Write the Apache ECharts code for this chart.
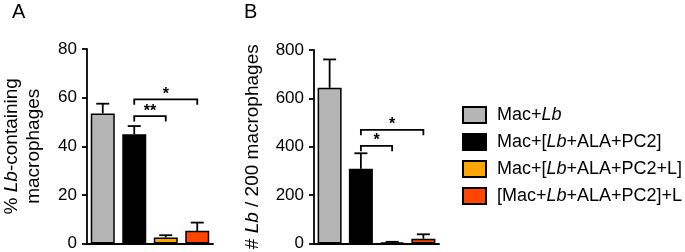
<!DOCTYPE html>
<html>
<head>
<meta charset="utf-8">
<script src="https://cdn.jsdelivr.net/npm/echarts@6/dist/echarts.min.js"></script>
<style>
html,body{margin:0;padding:0;background:#fff;}
#c{width:685px;height:252px;}
</style>
</head>
<body>
<div id="c"></div>
<script>
// ---- data ----
var groups = ['Mac+Lb', 'Mac+[Lb+ALA+PC2]', 'Mac+[Lb+ALA+PC2+L]', '[Mac+Lb+ALA+PC2]+L'];
var groupLabels = ['Mac+{i|Lb}', 'Mac+[{i|Lb}+ALA+PC2]', 'Mac+[{i|Lb}+ALA+PC2+L]', '[Mac+{i|Lb}+ALA+PC2]+L'];
var groupColors = ['#b5b5b5', '#000000', '#ffa500', '#ff4500'];

var pctMean = [53.5, 44.9, 2.5, 5.2];
var pctErr  = [4.0, 3.4, 0.9, 3.4];
var pctTicks = [0, 20, 40, 60, 80];
// [fromIndex, toIndex, yValue, label]
var pctBrackets = [[1, 2, 52.4, '**'], [1, 3, 59.3, '*']];

var cntMean = [644, 309, 5, 20];
var cntErr  = [117, 64, 2, 18];
var cntTicks = [0, 200, 400, 600, 800];
var cntBrackets = [[1, 2, 404, '*'], [1, 3, 470, '*']];

var FONT = 'Liberation Sans, Arial, sans-serif';

function barSeries(means, gridIdx) {
  return groups.map(function (g, k) {
    var d = means.map(function (v, j) { return j === k ? v : '-'; });
    return {
      type: 'bar', name: g, xAxisIndex: gridIdx, yAxisIndex: gridIdx,
      data: d, barWidth: 24, barGap: '-100%',
      itemStyle: { color: groupColors[k], borderColor: '#000', borderWidth: 1.5 },
      z: 2, silent: true, animation: false
    };
  });
}

function errSeries(means, errs, gridIdx) {
  return {
    type: 'custom', xAxisIndex: gridIdx, yAxisIndex: gridIdx, z: 1, silent: true,
    data: means.map(function (m, i) { return [i, m, m + errs[i]]; }),
    encode: { x: 0, y: [1, 2] },
    renderItem: function (params, api) {
      var b = api.coord([api.value(0), api.value(1)]);
      var t = api.coord([api.value(0), api.value(2)]);
      var st = { stroke: '#000', lineWidth: 1.8 };
      return { type: 'group', children: [
        { type: 'line', shape: { x1: b[0], y1: b[1], x2: t[0], y2: t[1] }, style: st },
        { type: 'line', shape: { x1: t[0] - 6.5, y1: t[1], x2: t[0] + 6.5, y2: t[1] }, style: st }
      ]};
    }
  };
}

function bracketSeries(brs, gridIdx) {
  return {
    type: 'custom', xAxisIndex: gridIdx, yAxisIndex: gridIdx, z: 5, silent: true,
    data: brs.map(function (b) { return [b[0], b[1], b[2]]; }),
    encode: { x: [0, 1], y: 2 },
    renderItem: function (params, api) {
      var p1 = api.coord([api.value(0), api.value(2)]);
      var p2 = api.coord([api.value(1), api.value(2)]);
      var leg = 5.5;
      var lab = brs[params.dataIndex][3];
      return { type: 'group', children: [
        { type: 'polyline', shape: { points: [[p1[0], p1[1] + leg], [p1[0], p1[1]], [p2[0], p2[1]], [p2[0], p2[1] + leg]] },
          style: { stroke: '#000', lineWidth: 1.8, fill: null } },
        { type: 'text', x: (p1[0] + p2[0]) / 2, y: p1[1] + 3,
          style: { text: lab, fontFamily: FONT, fontSize: 16, fontWeight: 'bold', fill: '#000',
                   align: 'center', verticalAlign: 'bottom' } }
      ]};
    }
  };
}

function yAxisDef(gridIdx, ticks, name, gap) {
  return {
    type: 'value', gridIndex: gridIdx, min: ticks[0], max: ticks[ticks.length - 1],
    interval: ticks[1] - ticks[0],
    axisLine: { show: true, lineStyle: { color: '#000', width: 1.8 } },
    axisTick: { show: true, length: 5, lineStyle: { color: '#000', width: 1.8 } },
    axisLabel: { color: '#000', fontSize: 17, fontFamily: FONT, margin: 10 },
    splitLine: { show: false },
    name: name, nameLocation: 'middle', nameGap: gap,
    nameTextStyle: { color: '#000', fontSize: 19, fontFamily: FONT, lineHeight: 22,
      rich: { i: { fontStyle: 'italic', fontSize: 19, fontFamily: FONT, color: '#000' } } }
  };
}

function xAxisDef(gridIdx) {
  return {
    type: 'category', gridIndex: gridIdx, data: groups,
    axisLine: { show: true, lineStyle: { color: '#000', width: 1.8 } },
    axisTick: { show: false }, axisLabel: { show: false }
  };
}

var chart = echarts.init(document.getElementById('c'), null, { renderer: 'canvas' });
chart.setOption({
  animation: false,
  backgroundColor: '#fff',
  grid: [
    { left: 85, top: 49, width: 128, height: 195 },
    { left: 314, top: 50, width: 125, height: 194 }
  ],
  xAxis: [xAxisDef(0), xAxisDef(1)],
  yAxis: [
    yAxisDef(0, pctTicks, '% {i|Lb}-containing\nmacrophages', 42),
    yAxisDef(1, cntTicks, '# {i|Lb} / 200 macrophages', 50)
  ],
  legend: {
    orient: 'vertical', left: 462, top: 106, padding: 0, itemWidth: 23, itemHeight: 16, itemGap: 9,
    icon: 'rect', data: groups, selectedMode: false,
    formatter: function (name) { return groupLabels[groups.indexOf(name)]; },
    textStyle: { color: '#000', fontSize: 18, fontFamily: FONT, padding: [0, 0, 0, 6],
      rich: { i: { fontStyle: 'italic', fontSize: 18, fontFamily: FONT, color: '#000' } } }
  },
  graphic: [
    { type: 'text', left: 12, top: 2, style: { text: 'A', fontSize: 20, fontFamily: FONT, fill: '#000' } },
    { type: 'text', left: 244, top: 2, style: { text: 'B', fontSize: 20, fontFamily: FONT, fill: '#000' } }
  ],
  series: [].concat(
    barSeries(pctMean, 0), [errSeries(pctMean, pctErr, 0), bracketSeries(pctBrackets, 0)],
    barSeries(cntMean, 1), [errSeries(cntMean, cntErr, 1), bracketSeries(cntBrackets, 1)]
  )
});
</script>
</body>
</html>
